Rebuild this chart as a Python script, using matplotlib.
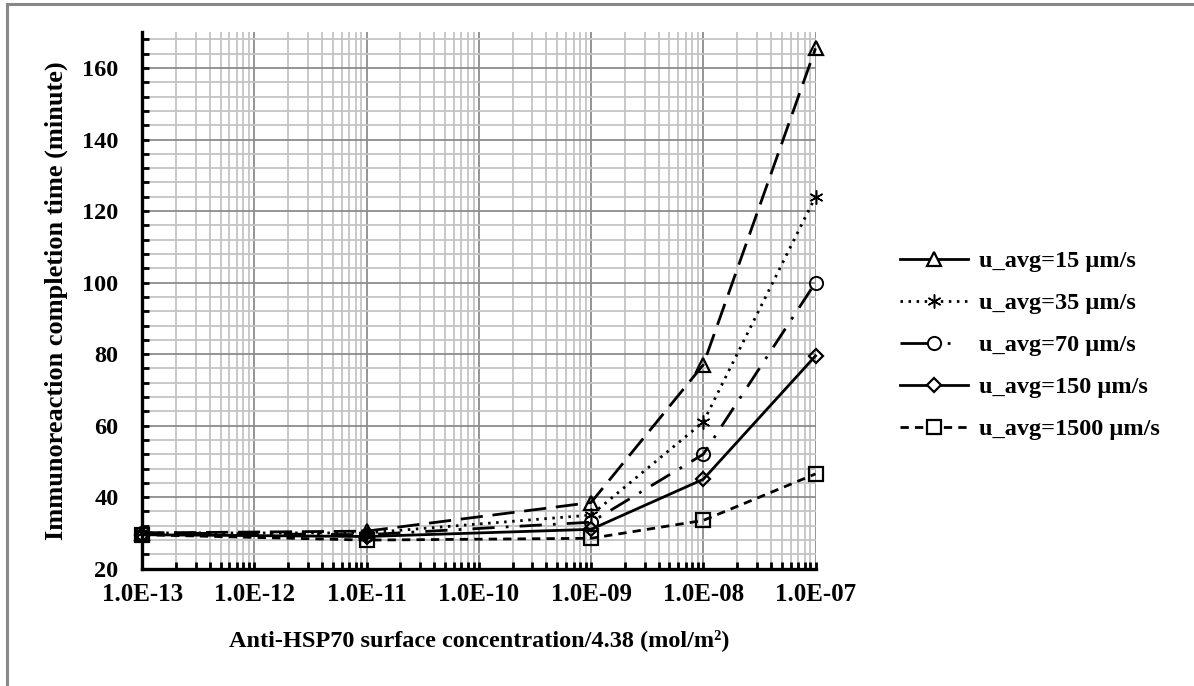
import numpy as np
import matplotlib
matplotlib.use("Agg")
import matplotlib.pyplot as plt
from matplotlib.patches import Rectangle
from matplotlib.lines import Line2D
from matplotlib.ticker import FixedLocator, MultipleLocator, LogLocator, NullFormatter

plt.rcParams['font.family'] = ['Liberation Serif', 'DejaVu Serif']
plt.rcParams['font.weight'] = 'bold'

# ---- data ----
concentration = [1e-13, 1e-11, 1e-9, 1e-8, 1e-7]
u15 = [30, 30.5, 38.5, 77, 165.5]
u35 = [30, 30, 35, 61, 124]
u70 = [30, 29.5, 33, 52, 100]
u150 = [29.5, 29, 31, 45, 79.5]
u1500 = [29.5, 28, 28.5, 33.5, 46.5]
labels = ["u_avg=15 µm/s", "u_avg=35 µm/s", "u_avg=70 µm/s",
          "u_avg=150 µm/s", "u_avg=1500 µm/s"]
xtick_vals = [1e-13, 1e-12, 1e-11, 1e-10, 1e-9, 1e-8, 1e-7]
xtick_labels = ["1.0E-13", "1.0E-12", "1.0E-11", "1.0E-10", "1.0E-09", "1.0E-08", "1.0E-07"]

series = [u15, u35, u70, u150, u1500]
styles = [
    dict(ls=(0, (8, 3.5)), leg_ls='-', marker='^', ms=10, mew=1.6),
    dict(ls=(0, (0.9, 2.0)), leg_ls=(0, (0.9, 2.0)), marker=(6, 2, 0), ms=10, mew=1.1),
    dict(ls=(0, (8, 4, 1, 4)), leg_ls=(0, (11, 6, 1, 20)), marker='o', ms=9.5, mew=1.4),
    dict(ls='-', leg_ls='-', marker='D', ms=7.5, mew=1.6),
    dict(ls=(0, (3, 2.2)), leg_ls=(0, (3, 2.2)), marker='s', ms=9.5, mew=1.6),
]

fig = plt.figure(figsize=(11.94, 6.86), dpi=100)
ax = fig.add_axes([0.119, 0.171, 0.564, 0.782])
ax.set_xscale('log')
ax.set_xlim(1e-13, 1e-7)
ax.set_ylim(20, 170)

handles = []
for ys, st, lab in zip(series, styles, labels):
    ax.plot(concentration, ys, color='black', lw=2.0, linestyle=st['ls'],
            marker=st['marker'], ms=st['ms'], mfc='none', mec='black',
            mew=st['mew'], zorder=3, clip_on=False)
    handles.append(Line2D([], [], color='black', lw=2.0, linestyle=st['leg_ls'],
                          marker=st['marker'], ms=st['ms'], mfc='white',
                          mec='black', mew=st['mew'], label=lab))

# grid & ticks
ax.yaxis.set_major_locator(MultipleLocator(20))
ax.yaxis.set_minor_locator(MultipleLocator(4))
ax.xaxis.set_major_locator(FixedLocator(xtick_vals))
ax.xaxis.set_minor_locator(LogLocator(base=10, subs=np.arange(2, 10), numticks=20))
ax.xaxis.set_minor_formatter(NullFormatter())
ax.set_xticklabels(xtick_labels)
ax.grid(which='minor', color='#c4c4c4', lw=1.3, zorder=0)
ax.grid(which='major', color='#8c8c8c', lw=1.3, zorder=0)
ax.set_axisbelow(True)

for s in ['top', 'right']:
    ax.spines[s].set_visible(False)
for s in ['left', 'bottom']:
    ax.spines[s].set_linewidth(2.4)
    ax.spines[s].set_color('black')

ax.tick_params(which='both', direction='in', length=5, width=2.0, color='black')
ax.tick_params(axis='x', which='major', labelsize=18, pad=10)
ax.tick_params(axis='y', which='major', labelsize=17.5, pad=17)

ax.set_xlabel("Anti-HSP70 surface concentration/4.38 (mol/m²)",
              fontsize=17.5, fontweight='bold')
ax.xaxis.set_label_coords(0.5, -0.112)
ax.set_ylabel("Immunoreaction completion time (minute)", fontsize=19,
              fontweight='bold')
ax.yaxis.set_label_coords(-0.11, 0.5)

leg = fig.legend(handles=handles, loc='upper left', bbox_to_anchor=(0.754, 0.635),
                 frameon=False, handlelength=2.8, handletextpad=0.42,
                 labelspacing=0.82, borderpad=0, borderaxespad=0,
                 prop={'weight': 'bold', 'size': 17.5})

# outer frame
fig.patches.append(Rectangle((7 / 1194, -0.1), 1.2, 1.1 - 4 / 686,
                             transform=fig.transFigure, fill=False,
                             edgecolor='#888888', lw=2.2))

fig.savefig("out.png", dpi=100)
